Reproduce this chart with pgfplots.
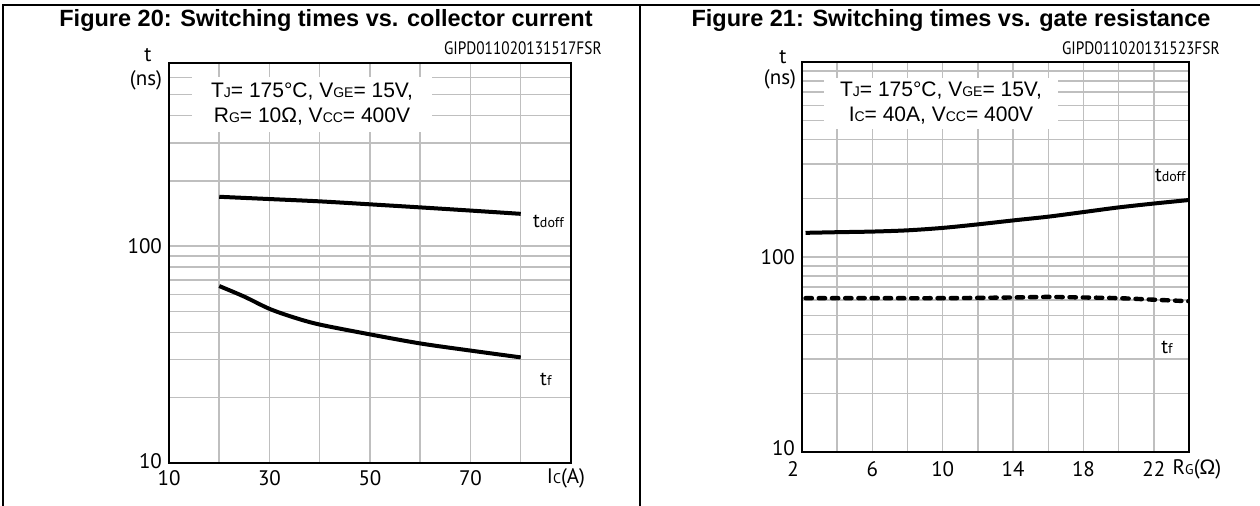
\documentclass[border=0pt]{standalone}
\usepackage{pgfplots}
\pgfplotsset{compat=1.18}
\usepackage{fontspec}
\setmainfont{Liberation Sans}
\newfontfamily\tickfont{PT Sans}
\newfontfamily\codefont[FakeStretch=0.85]{PT Sans}

% small "subscript" letters sitting on the baseline
\newcommand{\sm}[1]{{\fontsize{7}{8}\selectfont #1}}
\newcommand{\tsm}[1]{{\fontsize{7}{8}\selectfont #1}}

\begin{document}
\begin{tikzpicture}
\useasboundingbox (0,0) rectangle (630pt,253pt);
\draw[line width=1pt] (1.5pt,0) -- (1.5pt,250.5pt) -- (630pt,250.5pt);
\draw[line width=1pt] (320pt,0) -- (320pt,250.5pt);

% ---------- Figure 20 ----------
\begin{axis}[
    scale only axis,
    anchor=south west,
    at={(84.5pt,21.5pt)},
    width=201pt, height=200pt,
    ymode=log,
    xmin=10, xmax=90, ymin=10, ymax=700,
    axis line style={line width=1.25pt},
    grid=both,
    major grid style={gray!50, line width=0.75pt},
    minor grid style={gray!50, line width=0.75pt},
    major tick length=0pt,
    minor tick length=0pt,
    ytick={10,100},
    yticklabels={\raisebox{2pt}{10},100},
    xtick={10,30,50,70},
    xticklabels={10,30,50,70},
    minor xtick={20,40,60,80},
    minor ytick={20,30,40,50,60,70,80,90,200,300,400,500,600},
    ticklabel style={font=\tickfont\fontsize{10.5}{11}\selectfont},
    /pgf/number format/assume math mode=true,
  ]
  % tdoff
  \addplot[black, line width=2pt, smooth] coordinates {(20,169) (30,165) (40,161) (50,156) (60,151) (70,146) (80,141)};
  % tf
  \addplot[black, line width=2pt, smooth] coordinates {(20,65.5) (25,58.5) (30,51.4) (35,46.8) (40,43.5) (50,39.2) (60,35.6) (70,33.0) (80,30.7)};
  \node[anchor=west, inner sep=0pt, font=\tickfont\fontsize{10}{11}\selectfont] at (axis cs:82.4,130.6) {t\tsm{doff}};
  \node[anchor=west, inner sep=0pt, font=\tickfont\fontsize{10}{11}\selectfont] at (axis cs:83.8,24.2) {t\tsm{f}};
\end{axis}
\node[fill=white, minimum width=120pt, minimum height=27.5pt, inner sep=0pt, align=center,
      font=\fontsize{10.5}{12.5}\selectfont] at (156pt,200.75pt)
  {T\sm{J}= 175°C, V\sm{GE}= 15V,\\ R\sm{G}= 10Ω, V\sm{CC}= 400V};
\node[font=\bfseries\fontsize{11.75}{13}\selectfont] at (163pt,243pt) {Figure 20: Switching times vs. collector current};
\node[anchor=east, inner sep=0pt, font=\codefont\fontsize{9}{10}\selectfont] at (301pt,229pt) {GIPD011020131517FSR};
\node[font=\tickfont\fontsize{10.5}{11}\selectfont] at (74pt,225.5pt) {t};
\node[font=\tickfont\fontsize{10.5}{11}\selectfont] at (73pt,213pt) {(ns)};
\node[font=\tickfont\fontsize{10.5}{11}\selectfont] at (283pt,14pt) {I\tsm{C}(A)};

% ---------- Figure 21 ----------
\begin{axis}[
    scale only axis,
    anchor=south west,
    at={(401pt,27pt)},
    width=193.5pt, height=195pt,
    ymode=log,
    xmin=2, xmax=24, ymin=10, ymax=1000,
    axis line style={line width=1.25pt},
    grid=both,
    major grid style={gray!50, line width=0.75pt},
    minor grid style={gray!50, line width=0.75pt},
    major tick length=0pt,
    minor tick length=0pt,
    ytick={10,100},
    yticklabels={\raisebox{3.5pt}{10},100},
    xtick={2,6,10,14,18,22},
    xticklabels={\makebox[0pt]{2\hspace{9pt}},6,10,14,18,22},
    xticklabel style={yshift=-1pt},
    minor xtick={4,8,12,16,20},
    minor ytick={20,30,40,50,60,70,80,90,200,300,400,500,600,700,800,900},
    ticklabel style={font=\tickfont\fontsize{10.5}{11}\selectfont},
    /pgf/number format/assume math mode=true,
  ]
  % tdoff
  \addplot[black, line width=2pt, smooth] coordinates {(2.2,133) (4,134) (6,135) (8,137) (10,141) (12,147) (14,154) (16,161) (18,170) (20,179.6) (22,188) (24,196)};
  % tf
  \addplot[black, line width=2.2pt, smooth, line cap=round, dash pattern=on 3.2pt off 3.4pt] coordinates {(2.2,61.5) (6,61.5) (10,61.5) (14,62) (16,62.4) (18,62) (20,61.5) (22,60.4) (24,59.3)};
  \node[anchor=west, inner sep=0pt, font=\tickfont\fontsize{10}{11}\selectfont] at (axis cs:22.05,262) {t\tsm{doff}};
  \node[anchor=west, inner sep=0pt, font=\tickfont\fontsize{10}{11}\selectfont] at (axis cs:22.4,34.5) {t\tsm{f}};
\end{axis}
\node[fill=white, minimum width=117pt, minimum height=25.5pt, inner sep=0pt, align=center,
      font=\fontsize{10.5}{12.5}\selectfont] at (470.5pt,201.25pt)
  {T\sm{J}= 175°C, V\sm{GE}= 15V,\\ I\sm{C}= 40A, V\sm{CC}= 400V};
\node[font=\bfseries\fontsize{11.75}{13}\selectfont] at (475.5pt,243pt) {Figure 21: Switching times vs. gate resistance};
\node[anchor=east, inner sep=0pt, font=\codefont\fontsize{9}{10}\selectfont] at (610pt,229pt) {GIPD011020131523FSR};
\node[font=\tickfont\fontsize{10.5}{11}\selectfont] at (391.5pt,224.5pt) {t};
\node[font=\tickfont\fontsize{10.5}{11}\selectfont] at (390pt,213.5pt) {(ns)};
\node[font=\tickfont\fontsize{10.5}{11}\selectfont] at (598.5pt,18.5pt) {R\tsm{G}({\rmfamily Ω})};
\end{tikzpicture}
\end{document}
